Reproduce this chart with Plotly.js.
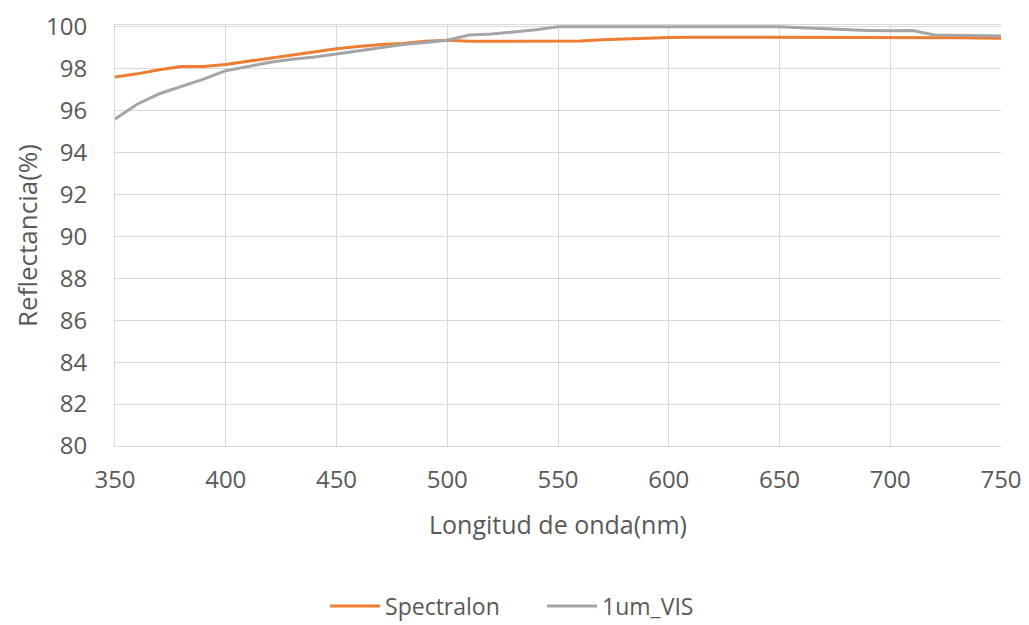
<!DOCTYPE html>
<html>
<head>
<meta charset="utf-8">
<script src="https://cdn.plot.ly/plotly-3.0.1.min.js"></script>
<style>
  html, body { margin: 0; padding: 0; background: #fff; }
  #chart { width: 1029px; height: 625px; }
</style>
</head>
<body>
<div id="chart"></div>
<script>
// Wavelength samples (nm)
const wavelength = [350, 360, 370, 380, 390, 400, 410, 420, 430, 440,
                    450, 460, 470, 480, 490, 500, 510, 520, 530, 540,
                    550, 560, 570, 580, 590, 600, 610, 620, 630, 640,
                    650, 660, 670, 680, 690, 700, 710, 720, 730, 740, 750];

// Reflectance of the Spectralon reference (%)
const spectralon = [97.6, 97.75, 97.95, 98.1, 98.1, 98.2, 98.35, 98.5, 98.65, 98.8,
                    98.95, 99.05, 99.15, 99.2, 99.3, 99.35, 99.3, 99.3, 99.3, 99.3,
                    99.3, 99.32, 99.38, 99.42, 99.46, 99.48, 99.5, 99.5, 99.5, 99.5,
                    99.5, 99.5, 99.5, 99.5, 99.5, 99.5, 99.5, 99.48, 99.47, 99.46, 99.45];

// Reflectance of the 1um_VIS sample (%)
const um1Vis = [95.6, 96.3, 96.8, 97.15, 97.5, 97.9, 98.1, 98.3, 98.45, 98.55,
                98.7, 98.85, 99.0, 99.15, 99.25, 99.35, 99.6, 99.65, 99.75, 99.85,
                100.0, 100.0, 100.0, 100.0, 100.0, 100.0, 100.0, 100.0, 100.0, 100.0,
                100.0, 99.95, 99.9, 99.85, 99.82, 99.8, 99.82, 99.6, 99.58, 99.55, 99.55];

const xTicks = [350, 400, 450, 500, 550, 600, 650, 700, 750];
const yTicks = [80, 82, 84, 86, 88, 90, 92, 94, 96, 98, 100];

const fontFamily = "'Open Sans', 'Noto Sans', sans-serif";
const textColor = '#595959';
const gridColor = '#d9d9d9';

const traces = [
  {
    x: wavelength, y: spectralon, name: 'Spectralon',
    type: 'scatter', mode: 'lines',
    line: { color: '#ED7D31', width: 3 }
  },
  {
    x: wavelength, y: um1Vis, name: '1um_VIS',
    type: 'scatter', mode: 'lines',
    line: { color: '#A5A5A5', width: 3 }
  }
];

const layout = {
  width: 1029, height: 625,
  paper_bgcolor: '#ffffff', plot_bgcolor: '#ffffff',
  margin: { l: 115, r: 28, t: 25, b: 179, autoexpand: false },
  font: { family: fontFamily, size: 24, color: textColor },
  showlegend: true,
  legend: {
    orientation: 'h', x: 0.482, xanchor: 'center', y: -0.38, yanchor: 'middle',
    font: { family: fontFamily, size: 23, color: textColor },
    itemwidth: 50, entrywidth: 152
  },
  xaxis: {
    range: [350, 750], tickvals: xTicks, ticktext: xTicks.map(String),
    automargin: false,
    showgrid: true, gridcolor: gridColor, gridwidth: 1,
    showline: true, linecolor: gridColor, linewidth: 1, mirror: true,
    zeroline: false, ticks: '', ticklabelstandoff: 12,
    tickfont: { family: fontFamily, size: 24, color: textColor },
    title: { text: 'Longitud de onda(nm)', standoff: 22,
             font: { family: fontFamily, size: 25, color: textColor } }
  },
  yaxis: {
    range: [80, 100.08], tickvals: yTicks, ticktext: yTicks.map(String),
    automargin: false,
    showgrid: true, gridcolor: gridColor, gridwidth: 1,
    showline: true, linecolor: gridColor, linewidth: 1,
    zeroline: false, ticks: '', ticklabelstandoff: 22,
    tickfont: { family: fontFamily, size: 24, color: textColor },
    title: { text: 'Reflectancia(%)', standoff: 0,
             font: { family: fontFamily, size: 26, color: textColor } }
  }
};

Plotly.newPlot('chart', traces, layout, { displayModeBar: false, staticPlot: true });
</script>
</body>
</html>
